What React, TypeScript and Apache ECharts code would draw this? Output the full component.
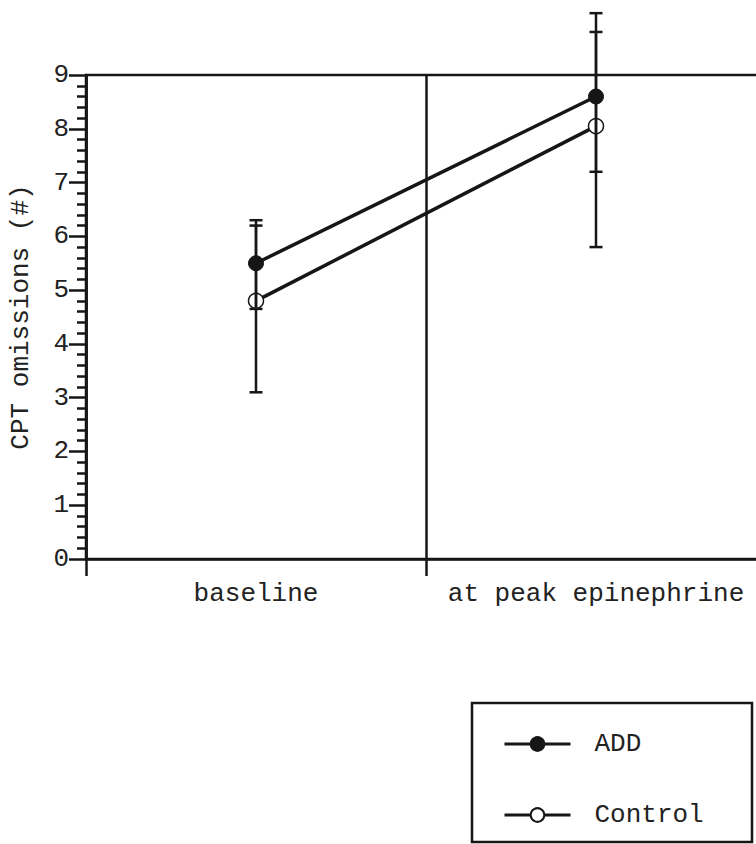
import React, { useEffect, useRef } from "react";
import * as echarts from "echarts";

const categories = ["baseline", "at peak epinephrine"];
const addMean = [5.5, 8.6];
const addLow = [4.65, 7.2];
const addHigh = [6.3, 9.8];
const ctrlMean = [4.8, 8.05];
const ctrlLow = [3.1, 5.8];
const ctrlHigh = [6.2, 10.15];
const yTicks = [0, 1, 2, 3, 4, 5, 6, 7, 8, 9];

const FONT = "'Liberation Mono', 'Courier New', monospace";
const INK = "#161616";

export default function App() {
  const ref = useRef<HTMLDivElement>(null);
  useEffect(() => {
    if (!ref.current) return;
    const chart = echarts.init(ref.current, null, { renderer: "svg" });
    const errData = categories.flatMap((_, i) => [
      [i, addLow[i], addHigh[i]],
      [i, ctrlLow[i], ctrlHigh[i]],
    ]);
    chart.setOption({
      animation: false,
      backgroundColor: "#ffffff",
      grid: {
        left: 86,
        right: -10,
        top: 75,
        bottom: 285,
        show: true,
        borderColor: INK,
        borderWidth: 2.5,
        containLabel: false,
        outerBoundsMode: "none",
      },
      xAxis: {
        type: "category",
        data: categories,
        boundaryGap: true,
        axisLine: { lineStyle: { color: INK, width: 2.5 } },
        axisTick: { show: true, interval: 0, length: 17, lineStyle: { color: INK, width: 2.5 } },
        splitLine: { show: true, interval: 0, lineStyle: { color: INK, width: 2.5 } },
        axisLabel: { interval: 0, hideOverlap: false, fontFamily: FONT, fontSize: 26, color: "#222", margin: 22 },
      },
      yAxis: {
        type: "value",
        min: yTicks[0],
        max: yTicks[yTicks.length - 1],
        interval: 1,
        name: "CPT omissions (#)",
        nameLocation: "middle",
        nameGap: 52,
        nameTextStyle: { fontFamily: FONT, fontSize: 26, color: "#222" },
        axisLine: { show: true, lineStyle: { color: INK, width: 2.5 } },
        axisTick: { show: true, length: 17, lineStyle: { color: INK, width: 2.5 } },
        minorTick: { show: true, splitNumber: 5, length: 9, lineStyle: { color: INK, width: 2.5 } },
        splitLine: { show: false },
        axisLabel: { fontFamily: FONT, fontSize: 26, color: "#222", margin: 17 },
      },
      legend: {
        orient: "vertical",
        left: 498,
        top: 726,
        itemWidth: 66,
        itemHeight: 17,
        itemGap: 45,
        lineStyle: { width: 3 },
        textStyle: { fontFamily: FONT, fontSize: 26, color: "#222", padding: [0, 0, 0, 19] },
        data: ["ADD", "Control"],
      },
      graphic: [
        {
          type: "rect",
          shape: { x: 472, y: 703, width: 280, height: 139 },
          style: { fill: "none", stroke: INK, lineWidth: 2.5 },
        },
      ],
      series: [
        {
          name: "ADD",
          type: "line",
          data: addMean,
          symbol: "circle",
          symbolSize: 15,
          itemStyle: { color: INK, borderColor: INK, borderWidth: 1 },
          lineStyle: { color: INK, width: 3.5 },
          z: 3,
        },
        {
          name: "Control",
          type: "line",
          data: ctrlMean,
          symbol: "circle",
          symbolSize: 15,
          itemStyle: { color: "#ffffff", borderColor: INK, borderWidth: 1.5 },
          lineStyle: { color: INK, width: 3.5 },
          z: 3,
        },
        {
          type: "custom",
          clip: false,
          z: 4,
          data: errData,
          renderItem: (params: any, api: any) => {
            const lo = api.coord([api.value(0), api.value(1)]);
            const hi = api.coord([api.value(0), api.value(2)]);
            const hw = 6.5;
            const st = { stroke: INK, lineWidth: 2.5 };
            return {
              type: "group",
              children: [
                { type: "line", shape: { x1: lo[0], y1: lo[1], x2: hi[0], y2: hi[1] }, style: st },
                { type: "line", shape: { x1: lo[0] - hw, y1: lo[1], x2: lo[0] + hw, y2: lo[1] }, style: st },
                { type: "line", shape: { x1: hi[0] - hw, y1: hi[1], x2: hi[0] + hw, y2: hi[1] }, style: st },
              ],
            };
          },
        },
      ],
    });
    return () => chart.dispose();
  }, []);
  return (
    <div
      ref={ref}
      style={{ position: "absolute", left: 0, top: 0, width: 756, height: 844 }}
    />
  );
}
